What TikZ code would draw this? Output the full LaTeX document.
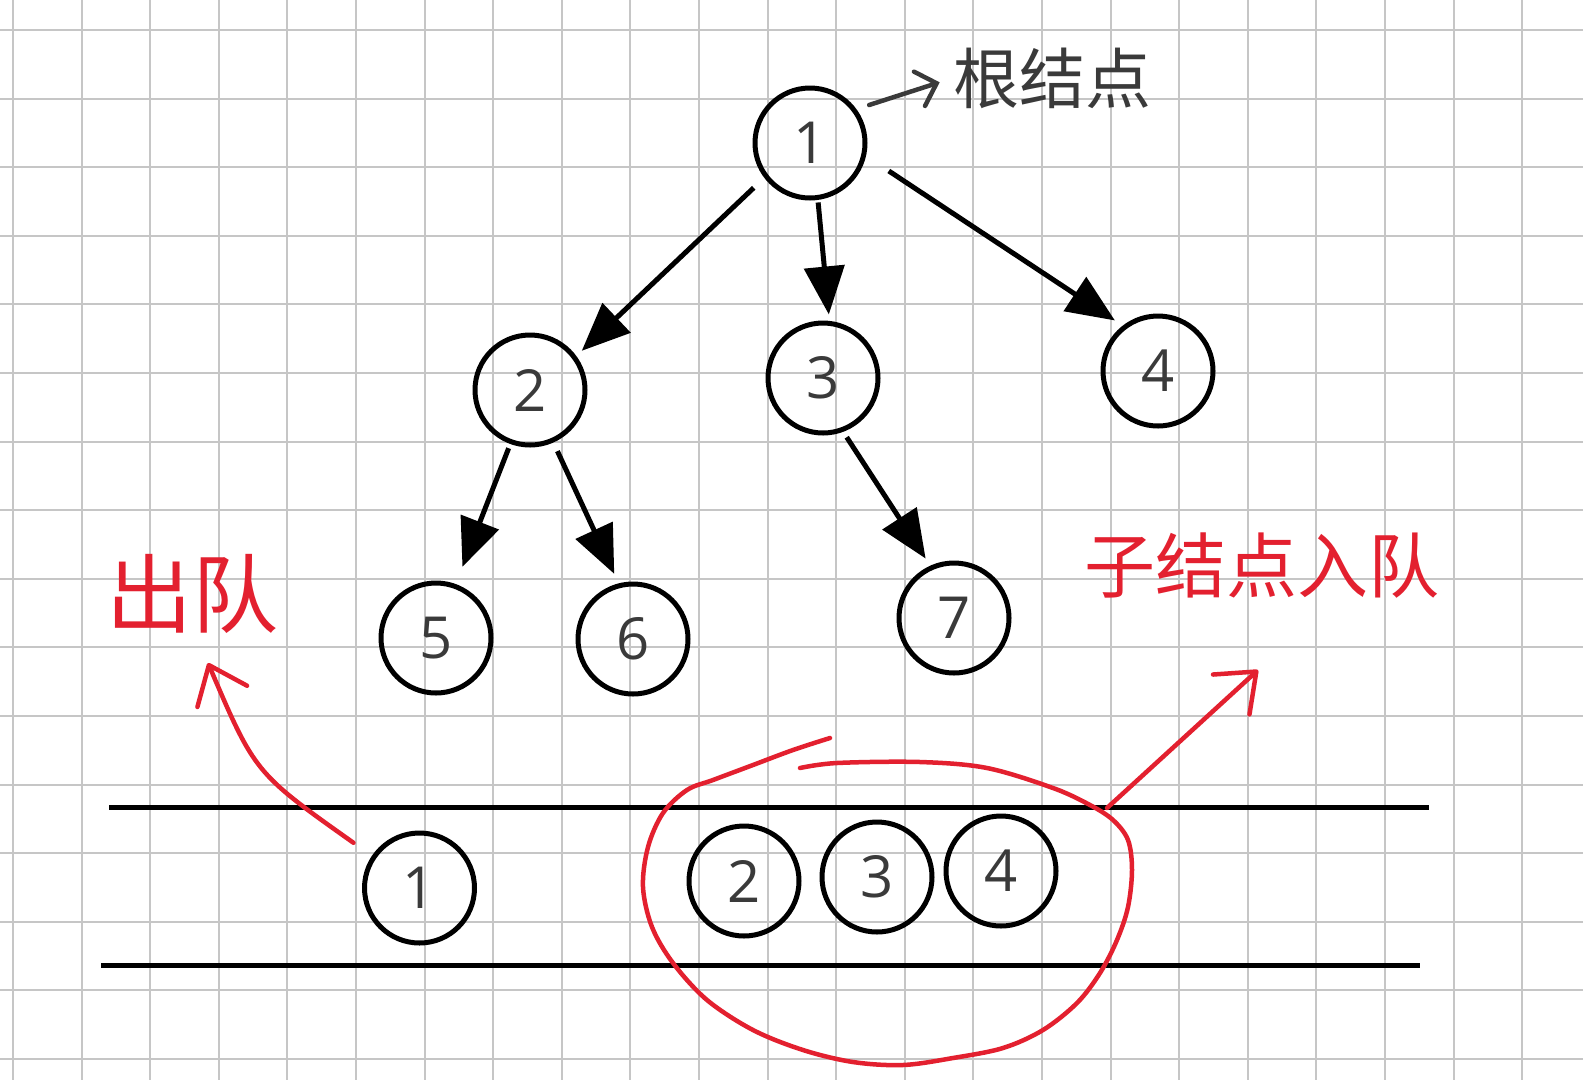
\documentclass[tikz,border=0pt]{standalone}
\usepackage{fontspec}
\setmainfont{Open Sans}
\newfontfamily\cjk{Noto Sans CJK SC}
\usetikzlibrary{arrows.meta,calc}
\definecolor{gridgray}{HTML}{C6C6C6}
\definecolor{ink}{HTML}{3A3A3A}
\definecolor{redink}{HTML}{E3202F}
\begin{document}
\begin{tikzpicture}[x=1pt,y=-1pt,
  tnode/.style={circle,draw=black,line width=5pt,minimum size=110pt,inner sep=0pt,outer sep=0pt,
    font=\fontsize{58}{58}\selectfont,text=ink},
  tarrow/.style={line width=5pt,-{Triangle[length=48pt,width=40pt]}},
  qline/.style={line width=5pt},
  redline/.style={draw=redink,line width=4.5pt,line cap=round,line join=round},
  redarrow/.style={redline,-{Straight Barb[length=34pt,width=54pt,line cap=round,line join=round]}},
  inkarrow/.style={draw=ink,line width=4.5pt,line cap=round,-{Straight Barb[length=18pt,width=36pt,line cap=round]}},
  lbl/.style={inner sep=0pt,outer sep=0pt}
]
\useasboundingbox (0,0) rectangle (1583,1080);
\fill[white] (0,0) rectangle (1583,1080);
% grid paper
\foreach \i in {0,...,22} \draw[gridgray,line width=2pt] ({13+68.6*\i},0) -- ({13+68.6*\i},1080);
\foreach \j in {0,...,15} \draw[gridgray,line width=2pt] (0,{30+68.6*\j}) -- (1583,{30+68.6*\j});

% tree nodes
\node[tnode] (n1) at (810,143) {1};
\node[tnode] (n2) at (530,390) {2};
\node[tnode] (n3) at (823,378) {3};
\node[tnode] (n4) at (1158,371) {4};
\node[tnode] (n5) at (436,638) {5};
\node[tnode] (n6) at (633,639) {6};
\node[tnode] (n7) at (954,618) {7};

% tree edges
\draw[tarrow,shorten <=17pt,shorten >=10pt] (n1.217) -- (n2.36);
\draw[tarrow,shorten <=5pt,shorten >=9pt] (n1.278) -- (n3.83);
\draw[tarrow,shorten <=30pt,shorten >=12pt] (n1.348) -- (n4.127);
\draw[tarrow,shorten <=7pt,shorten >=21pt] (n2.250) -- (n5.70);
\draw[tarrow,shorten <=12pt,shorten >=13pt] (n2.294) -- (n6.104);
\draw[tarrow,shorten <=9pt,shorten >=11pt] (n3.290) -- (n7.114);

% root label
\node[lbl,text=ink,font=\cjk\fontsize{66}{66}\selectfont] (rootlbl) at (1052,78) {根结点};
\draw[inkarrow,shorten <=16pt,shorten >=14pt] (n1.37) -- (rootlbl.west);

% queue
\draw[qline] (109,807) -- (1429,807);
\draw[qline] (101,965) -- (1420,965);
\node[tnode] (q1) at (419.5,888) {1};
\node[tnode] (q2) at (744,881) {2};
\node[tnode] (q3) at (877,877) {3};
\node[tnode] (q4) at (1001,871) {4};

% red loop around 2 3 4
\draw[redline] plot[smooth,tension=0.55] coordinates {
 (800,768) (837,763) (920,762) (987,768) (1053,788) (1090,805) (1113,820) (1128,840)
 (1132,870) (1128,907) (1117,940) (1100,973) (1077,1003) (1043,1030) (1003,1048)
 (953,1058) (903,1065) (853,1062) (803,1050) (753,1030) (707,1000) (673,963)
 (652,927) (643,887) (648,847) (663,813) (687,790) (713,780) (753,765) (793,750) (830,738)};
\coordinate (loopne) at (1107,808);
\coordinate (enqtip) at (1258,670);
\coordinate (deqtip) at (208,663);

% red labels
\node[lbl,text=redink,font=\cjk\fontsize{86}{86}\selectfont] (deq) at (192,594) {出队};
\node[lbl,text=redink,font=\cjk\fontsize{71}{71}\selectfont] (enq) at (1262,566) {子结点入队};

% red arrows
\draw[redarrow,shorten <=25pt] (q1.146) .. controls (255,773) .. (deqtip);
\draw[redarrow] (loopne) -- (enqtip);
\end{tikzpicture}
\end{document}
